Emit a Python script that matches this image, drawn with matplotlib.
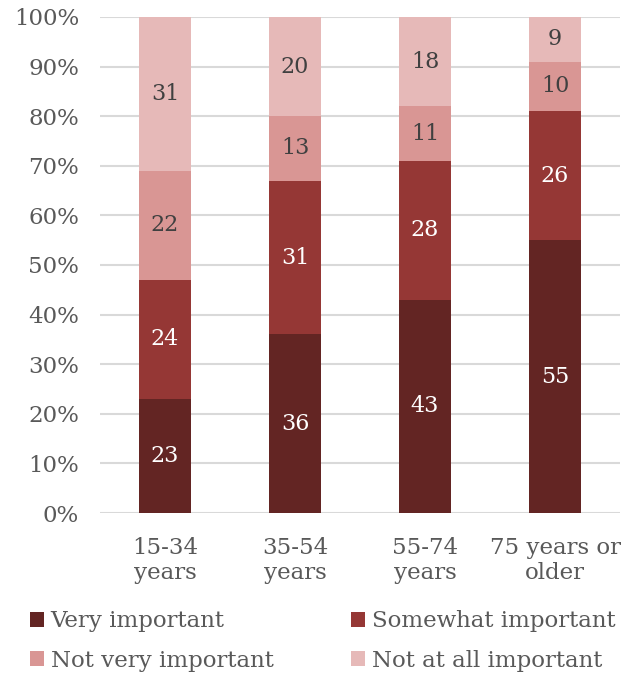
import matplotlib.pyplot as plt
import numpy as np

categories = ['15-34\nyears', '35-54\nyears', '55-74\nyears', '75 years or\nolder']
series = ['Very important', 'Somewhat important', 'Not very important', 'Not at all important']
very = [23, 36, 43, 55]
somewhat = [24, 31, 28, 26]
not_very = [22, 13, 11, 10]
not_at_all = [31, 20, 18, 9]

colors = ['#632523', '#953735', '#D99694', '#E6B9B8']
label_colors = ['white', 'white', '#404040', '#404040']

plt.rcParams['font.family'] = ['DejaVu Serif']

fig = plt.figure(figsize=(6.25, 6.76), dpi=100)
ax = fig.add_axes([0.16, 0.241, 0.832, 0.734])

x = np.arange(len(categories))
bottom = np.zeros(len(categories))
handles = []
for name, vals, c, lc in zip(series, [very, somewhat, not_very, not_at_all], colors, label_colors):
    vals = np.array(vals, dtype=float)
    b = ax.bar(x, vals, 0.4, bottom=bottom, color=c, label=name, zorder=3)
    handles.append(b)
    for xi, v, bt in zip(x, vals, bottom):
        ax.text(xi, bt + v / 2, str(int(v)), ha='center', va='center',
                color=lc, fontsize=16, zorder=4)
    bottom += vals

ax.set_xlim(-0.5, len(categories) - 0.5)
ax.set_ylim(0, 100)
ax.set_yticks(np.arange(0, 101, 10))
ax.set_yticklabels([f'{t}%' for t in range(0, 101, 10)])
ax.set_xticks(x)
ax.set_xticklabels(categories, linespacing=1.2)
ax.tick_params(axis='both', length=0, labelsize=16.5, colors='#595959')
ax.tick_params(axis='y', pad=15)
ax.tick_params(axis='x', pad=17)
ax.grid(axis='y', color='#D9D9D9', linewidth=1.5, zorder=0)
for s in ax.spines.values():
    s.set_visible(False)

order = [0, 2, 1, 3]
fig.legend([handles[i] for i in order], [series[i] for i in order],
           loc='lower left', bbox_to_anchor=(0.015, -0.024), ncol=2, frameon=False,
           fontsize=16.5, handlelength=0.6, handleheight=0.6, handletextpad=0.3,
           columnspacing=3.4, labelspacing=0.75, labelcolor='#595959')

fig.savefig('out.png', dpi=100)
